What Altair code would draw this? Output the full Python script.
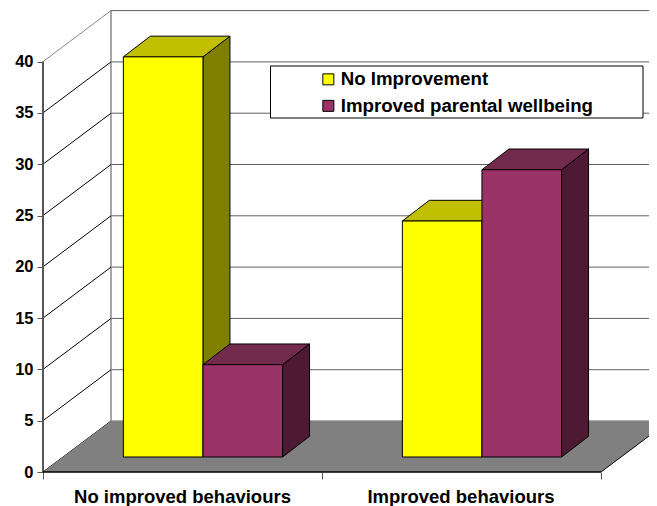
import altair as alt
import pandas as pd

categories = ["No improved behaviours", "Improved behaviours"]
series_names = ["No Improvement", "Improved parental wellbeing"]
no_improvement = [39, 23]
improved_wellbeing = [9, 28]
y_ticks = [0, 5, 10, 15, 20, 25, 30, 35, 40]
x_ticks = [0, 1, 2]

# layout (px → data units)
PX_X, PX_Y = 279.0, 10.26
W, H = 606, 462
X_MAX, Y_MAX = W / PX_X, H / PX_Y
WALL_DX, WALL_DY = 68 / PX_X, 51 / PX_Y
BAR_DX, BAR_DY = 27 / PX_X, 20.7 / PX_Y
BASE_DX, BASE_DY = 0.288, 15 / PX_Y
BAR_W = 79.6 / PX_X

FONT = "Liberation Sans"
xs = alt.Scale(domain=[0, X_MAX], nice=False, zero=False)
ys = alt.Scale(domain=[0, Y_MAX], nice=False, zero=False)

x_axis = alt.Axis(values=x_ticks, labels=False, domain=False, grid=False, tickSize=7,
                  tickColor="#555555", title=None)
y_axis = alt.Axis(values=y_ticks, domain=False, grid=False, tickSize=6, tickColor="#555555",
                  labelFont=FONT, labelFontSize=16.5, labelFontWeight="bold", labelColor="black",
                  labelPadding=4, title=None)


def X(f="x"):
    return alt.X(f"{f}:Q", scale=xs, axis=x_axis, title=None)


def Y(f="y"):
    return alt.Y(f"{f}:Q", scale=ys, axis=y_axis, title=None)


layers = []

# back wall lines
wall = pd.DataFrame({"v": y_ticks})
wall["x"] = WALL_DX
wall["x2"] = X_MAX
wall["y"] = wall.v + WALL_DY
layers.append(alt.Chart(wall).mark_rule(color="#606060", strokeWidth=1).encode(
    x=X("x"), x2="x2:Q", y=Y("y")))

# wall outline: left edge
top = pd.DataFrame({"x": [WALL_DX], "y": [40 + WALL_DY], "y0": [WALL_DY]})
layers.append(alt.Chart(top).mark_rule(color="#888888", strokeWidth=1.5).encode(x=X(), y=Y("y0"), y2="y:Q"))

# diagonal lines on the side wall
diag = pd.DataFrame(
    [{"v": v, "x": 0.0, "y": float(v)} for v in y_ticks] + [{"v": v, "x": WALL_DX, "y": v + WALL_DY} for v in y_ticks]
)
for sel, col in ((diag[diag.v < 40], "black"), (diag[diag.v == 40], "#888888")):
    layers.append(alt.Chart(sel).mark_line(color=col, strokeWidth=1).encode(x=X(), y=Y(), detail="v:N"))

# floor
floor = pd.DataFrame({"y": [0, WALL_DY], "x": [0, WALL_DX], "x2": [2, 2 + WALL_DX]})
layers.append(alt.Chart(floor).mark_area(orient="horizontal", color="#808080", clip=True).encode(
    y=Y(), x=X(), x2="x2:Q"))
floor_edge = pd.DataFrame({"x": [2, 2 + WALL_DX], "y": [0, WALL_DY]})
layers.append(alt.Chart(floor_edge).mark_line(color="black", strokeWidth=1, clip=True).encode(x=X(), y=Y()))

# axis lines
layers.append(alt.Chart(pd.DataFrame({"x": [0], "y": [0], "y2": [40]})).mark_rule(
    color="#555555", strokeWidth=2).encode(x=X(), y=Y(), y2="y2:Q"))
layers.append(alt.Chart(pd.DataFrame({"x": [0], "x2": [2], "y": [0]})).mark_rule(
    color="black", strokeWidth=1.5).encode(x=X(), x2="x2:Q", y=Y()))

# legend box
layers.append(alt.Chart(pd.DataFrame({"a": [0]})).mark_rect(fill="white", stroke="black", strokeWidth=1).encode(
    x=alt.value(227.5), x2=alt.value(600), y=alt.value(56), y2=alt.value(108)))

# bars
colors = {
    series_names[0]: ("#FFFF00", "#C0C000", "#808000"),
    series_names[1]: ("#993366", "#732B4D", "#4D1933"),
}
color_enc = alt.Color(
    "series:N",
    scale=alt.Scale(domain=series_names, range=[colors[s][0] for s in series_names]),
    legend=alt.Legend(orient="none", legendX=276, legendY=60, title=None, symbolType="square",
                      symbolSize=121, symbolStrokeColor="black", symbolStrokeWidth=1, symbolOpacity=1,
                      labelFont=FONT, labelFontSize=18.7, labelFontWeight="bold", labelColor="black",
                      labelLimit=400, rowPadding=6.5, symbolOffset=0, labelOffset=3, padding=0),
)
for c in range(len(categories)):
    for s, vals in enumerate((no_improvement, improved_wellbeing)):
        name = series_names[s]
        front, top_c, side = colors[name]
        x0 = c + BASE_DX + s * BAR_W
        x1 = x0 + BAR_W
        b = BASE_DY
        t = b + vals[c]
        side_df = pd.DataFrame({"x": [x1, x1 + BAR_DX], "y": [b, b + BAR_DY], "y2": [t, t + BAR_DY]})
        layers.append(alt.Chart(side_df).mark_area(color=side, stroke="black", strokeWidth=1).encode(
            x=X(), y=Y(), y2="y2:Q"))
        top_df = pd.DataFrame({"y": [t, t + BAR_DY], "x": [x0, x0 + BAR_DX], "x2": [x1, x1 + BAR_DX]})
        layers.append(alt.Chart(top_df).mark_area(orient="horizontal", color=top_c, stroke="black", strokeWidth=1).encode(
            y=Y(), x=X(), x2="x2:Q"))
        front_df = pd.DataFrame({"x": [x0], "x2": [x1], "y": [b], "y2": [t], "series": [name]})
        layers.append(alt.Chart(front_df).mark_rect(stroke="black", strokeWidth=1).encode(
            x=X(), x2="x2:Q", y=Y(), y2="y2:Q", color=color_enc))

# category labels
labels = pd.DataFrame({"x": [0.5, 1.498], "t": categories})
layers.append(alt.Chart(labels).mark_text(font=FONT, fontSize=18.5, fontWeight="bold", color="black",
                                          baseline="middle").encode(x=X(), y=alt.value(487), text="t:N"))

chart = alt.layer(*layers).properties(
    width=W, height=H,
    padding={"left": 35, "top": 2, "right": 0, "bottom": 34},
    autosize=alt.AutoSizeParams(type="none"),
).configure_view(stroke=None)

chart.save("out.html", embed_options={"renderer": "svg", "actions": False})
